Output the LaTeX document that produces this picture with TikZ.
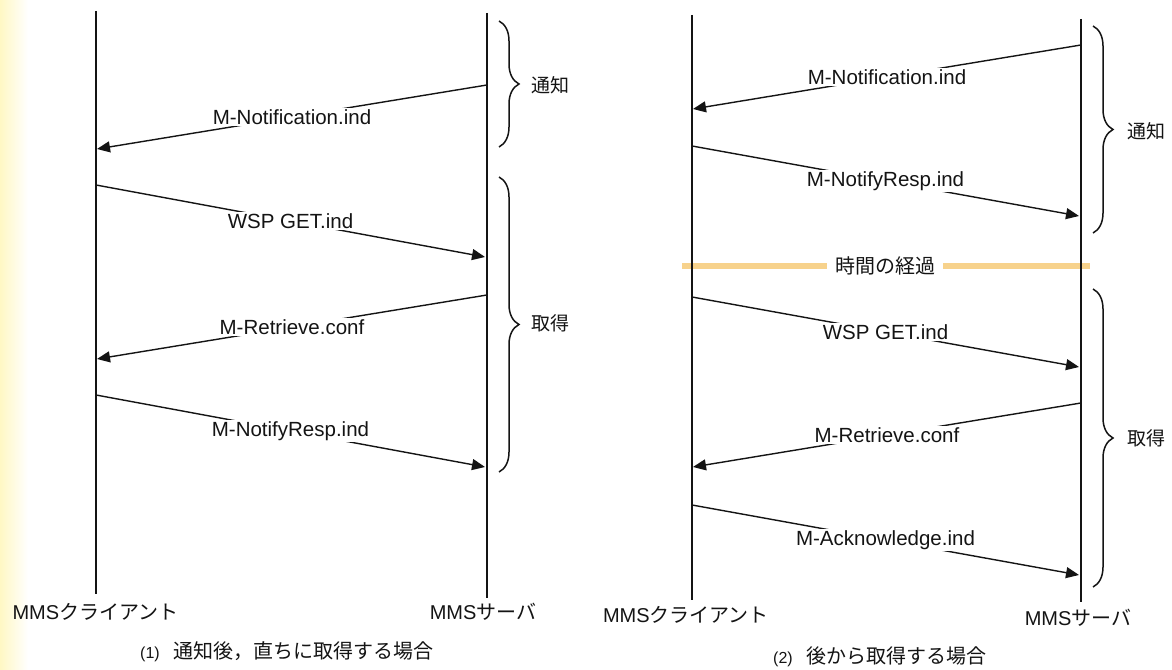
\documentclass[tikz,border=0pt]{standalone}
\usepackage{fontspec}
\setmainfont{Liberation Sans}
\newfontfamily\cjk{Noto Sans CJK JP}
\usetikzlibrary{arrows.meta,decorations.pathreplacing}
\definecolor{ink}{RGB}{20,20,20}
\definecolor{lapse}{RGB}{247,210,140}
\definecolor{tint}{RGB}{255,248,196}
\begin{document}
\begin{tikzpicture}[x=1pt,y=1pt,
  life/.style={draw=ink,line width=1.9pt},
  msg/.style={draw=ink,line width=1.4pt,-{Triangle[length=13pt,width=11pt]}},
  lbl/.style={fill=white,inner sep=1.2pt,text=ink,font=\fontsize{20.5}{22}\selectfont},
  brc/.style={draw=ink,line width=1.5pt,decorate,decoration={brace,amplitude=20pt}},
  jp/.style={text=ink,font=\cjk\fontsize{19}{22}\selectfont},
  ent/.style={text=ink,font=\fontsize{20}{22}\selectfont},
  captext/.style={text=ink,font=\fontsize{20}{24}\selectfont}]
\useasboundingbox (0,0) rectangle (1172,669);
\fill[white] (0,0) rectangle (1172,669);
\shade[left color=tint,right color=white,draw=none] (0,0) rectangle (28,669);

% ---------- time lapse band (right panel)
\node[jp,font=\cjk\fontsize{20}{22}\selectfont,inner xsep=8pt] (lapse) at (885,403) {時間の経過};
\coordinate (lapseL) at (682,403);
\coordinate (lapseR) at (1090,403);
\draw[lapse,line width=6pt] (lapseL) -- (lapse.west);
\draw[lapse,line width=6pt] (lapse.east) -- (lapseR);

% ---------- left panel
\coordinate (c1t) at (96,658); \coordinate (c1b) at (96,75);
\coordinate (s1t) at (487,656); \coordinate (s1b) at (487,71);
\draw[life] (c1t) -- (c1b);
\draw[life] (s1t) -- (s1b);

\coordinate (l1s) at (487,584); \coordinate (l1e) at (97,520);
\coordinate (l2s) at (96,484);  \coordinate (l2e) at (485,412);
\coordinate (l3s) at (487,374); \coordinate (l3e) at (97,310);
\coordinate (l4s) at (96,274);  \coordinate (l4e) at (485,202);
\draw[msg] (l1s) -- node[lbl] (lt1) {M-Notification.ind} (l1e);
\draw[msg] (l2s) -- node[lbl] (lt2) {WSP GET.ind} (l2e);
\draw[msg] (l3s) -- node[lbl] (lt3) {M-Retrieve.conf} (l3e);
\draw[msg] (l4s) -- node[lbl] (lt4) {M-NotifyResp.ind} (l4e);

\coordinate (lb1t) at (499,648); \coordinate (lb1b) at (499,522);
\coordinate (lb2t) at (499,492); \coordinate (lb2b) at (499,197);
\draw[brc] (lb1t) -- (lb1b);
\draw[brc] (lb2t) -- (lb2b);
\node[jp] (lg1) at (550,584) {通知};
\node[jp] (lg2) at (550,346) {取得};

\node[ent,anchor=west] (lcl) at (9,57) {MMS{\cjk クライアント}};
\node[ent] (lsv) at (483,57) {MMS{\cjk サーバ}};
\node[captext] (cap1) at (287,17) {{\fontsize{16}{18}\selectfont (1)}\hspace{14pt}{\cjk 通知後，直ちに取得する場合}};

% ---------- right panel
\coordinate (c2t) at (692,654); \coordinate (c2b) at (692,69);
\coordinate (s2t) at (1081,650); \coordinate (s2b) at (1081,67);
\draw[life] (c2t) -- (c2b);
\draw[life] (s2t) -- (s2b);

\coordinate (r1s) at (1081,624); \coordinate (r1e) at (693,560);
\coordinate (r2s) at (692,523);  \coordinate (r2e) at (1079,453);
\coordinate (r3s) at (692,372);  \coordinate (r3e) at (1079,302);
\coordinate (r4s) at (1081,266); \coordinate (r4e) at (693,202);
\coordinate (r5s) at (692,164);  \coordinate (r5e) at (1079,94);
\draw[msg] (r1s) -- node[lbl] (rt1) {M-Notification.ind} (r1e);
\draw[msg] (r2s) -- node[lbl] (rt2) {M-NotifyResp.ind} (r2e);
\draw[msg] (r3s) -- node[lbl] (rt3) {WSP GET.ind} (r3e);
\draw[msg] (r4s) -- node[lbl] (rt4) {M-Retrieve.conf} (r4e);
\draw[msg] (r5s) -- node[lbl] (rt5) {M-Acknowledge.ind} (r5e);

\coordinate (rb1t) at (1093,643); \coordinate (rb1b) at (1093,436);
\coordinate (rb2t) at (1093,380); \coordinate (rb2b) at (1093,82);
\draw[brc] (rb1t) -- (rb1b);
\draw[brc] (rb2t) -- (rb2b);
\node[jp] (rg1) at (1146,538) {通知};
\node[jp] (rg2) at (1146,231) {取得};

\node[ent] (rcl) at (686,54) {MMS{\cjk クライアント}};
\node[ent] (rsv) at (1078,51) {MMS{\cjk サーバ}};
\node[captext] (cap2) at (880,12) {{\fontsize{16}{18}\selectfont (2)}\hspace{14pt}{\cjk 後から取得する場合}};
\end{tikzpicture}
\end{document}
